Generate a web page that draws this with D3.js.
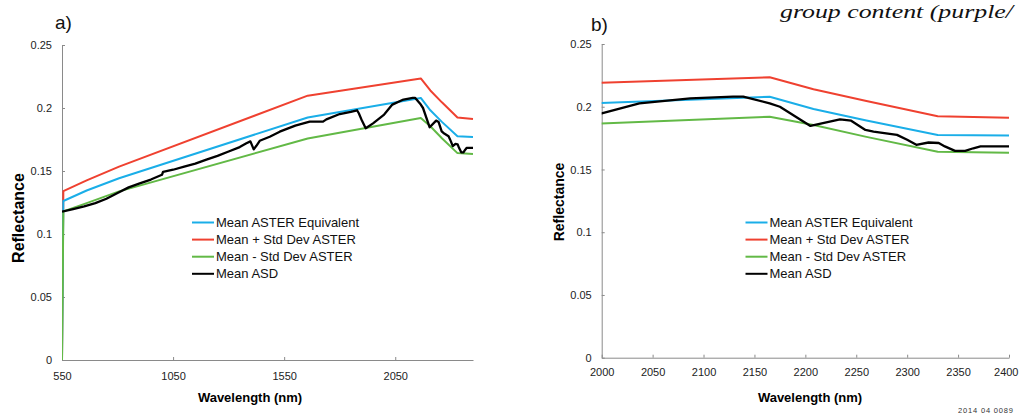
<!DOCTYPE html>
<html>
<head>
<meta charset="utf-8">
<script src="https://cdn.jsdelivr.net/npm/d3@7"></script>
<style>
  body { margin: 0; background: #fff; }
  svg { display: block; font-family: "Liberation Sans", Arial, sans-serif; }
  .axis path, .axis line { stroke: #8a8a8a; }
  .axis text { fill: #222; font-size: 11px; }
</style>
</head>
<body>
<svg id="chart" width="1019" height="414"></svg>
<script>
// ASTER band centres (nm), with a zero at 550 where the series begin
const asterWl = [550, 556, 661, 807, 1656, 2165, 2208, 2260, 2330, 2400]
const asterMean = [0, 0.1262, 0.1345, 0.1442, 0.1925, 0.208, 0.1982, 0.189, 0.1775, 0.177]
const asterPlus = [0, 0.134, 0.1425, 0.1535, 0.2098, 0.2235, 0.2139, 0.2045, 0.1924, 0.1913]
const asterMinus = [0, 0.118, 0.1245, 0.1338, 0.1758, 0.192, 0.1855, 0.176, 0.1642, 0.1634]

// Mean ASD spectrum
const asdWl = [550, 600, 650, 700, 750, 800, 850, 900, 950, 1000, 1005, 1050, 1100, 1150, 1200, 1250,
  1300, 1350, 1380, 1398, 1413, 1425, 1440, 1485, 1530, 1600, 1665, 1725, 1740, 1800, 1850, 1878,
  1886, 1900, 1917, 1950, 2000, 2037, 2087, 2129, 2139, 2165, 2175, 2205, 2234, 2245, 2259, 2267,
  2290, 2300, 2309, 2321, 2331, 2337, 2347, 2357, 2365, 2372, 2400]
const asdMean = [0.1177, 0.1198, 0.122, 0.1245, 0.128, 0.1325, 0.137, 0.1402, 0.1432, 0.147, 0.1494,
  0.151, 0.1535, 0.1558, 0.159, 0.162, 0.1655, 0.169, 0.172, 0.1735, 0.1672, 0.170, 0.174, 0.1772,
  0.1812, 0.186, 0.1892, 0.1892, 0.191, 0.1952, 0.197, 0.1982, 0.1958, 0.190, 0.1839, 0.1878, 0.1948,
  0.2027, 0.2067, 0.2081, 0.2081, 0.2027, 0.200, 0.1847, 0.19, 0.1889, 0.1815, 0.1802, 0.1776, 0.1737,
  0.1697, 0.1715, 0.1711, 0.1684, 0.1648, 0.1648, 0.1669, 0.1684, 0.1684]

const seriesNames = ['Mean ASTER Equivalent', 'Mean + Std Dev ASTER', 'Mean - Std Dev ASTER', 'Mean ASD']
const seriesColors = ['#1aaee8', '#ef4130', '#62b946', '#000000']

const yTicks = [0, 0.05, 0.1, 0.15, 0.2, 0.25]
const xTicksA = [550, 1050, 1550, 2050]
const xTicksB = [2000, 2050, 2100, 2150, 2200, 2250, 2300, 2350, 2400]

const svg = d3.select('#chart')

const series = [
  { name: seriesNames[0], color: seriesColors[0], pts: asterWl.map((w, i) => [w, asterMean[i]]) },
  { name: seriesNames[1], color: seriesColors[1], pts: asterWl.map((w, i) => [w, asterPlus[i]]) },
  { name: seriesNames[2], color: seriesColors[2], pts: asterWl.map((w, i) => [w, asterMinus[i]]) },
  { name: seriesNames[3], color: seriesColors[3], pts: asdWl.map((w, i) => [w, asdMean[i]]) }
]
// drawing order: red, blue, green, black
const drawOrder = [1, 0, 2, 3]

const panel = (opt) => {
  const x = d3.scaleLinear().domain(opt.xDomain).range(opt.xRange)
  const y = d3.scaleLinear().domain([0, 0.25]).range(opt.yRange)
  const g = svg.append('g')

  g.append('clipPath').attr('id', opt.id + '-clip')
    .append('rect')
    .attr('x', x.range()[0]).attr('y', y.range()[1] - 5)
    .attr('width', x.range()[1] - x.range()[0] + 2)
    .attr('height', y.range()[0] - y.range()[1] + 5)

  // axes
  const xAxis = g.append('g').attr('class', 'axis')
    .attr('transform', `translate(0,${y(0)})`)
    .call(d3.axisBottom(x).tickValues(opt.xTicks).tickFormat(d3.format('d'))
      .tickSizeInner(-3).tickSizeOuter(0).tickPadding(opt.xPad))
  // last label sits flush with the page edge, like the original
  if (opt.lastFlush) {
    xAxis.selectAll('.tick:last-of-type text').attr('text-anchor', 'end').attr('dx', opt.lastFlush)
  }
  g.append('g').attr('class', 'axis')
    .attr('transform', `translate(${x.range()[0]},0)`)
    .call(d3.axisLeft(y).tickValues(yTicks).tickFormat(d => String(+d.toFixed(2)))
      .tickSizeInner(-3).tickSizeOuter(0).tickPadding(10))

  // lines
  const line = d3.line().x(d => x(d[0])).y(d => y(d[1]))
  g.append('g').attr('clip-path', `url(#${opt.id}-clip)`)
    .selectAll('path')
    .data(drawOrder.map(i => series[i]))
    .join('path')
    .attr('d', d => line(d.pts))
    .attr('fill', 'none')
    .attr('stroke', d => d.color)
    .attr('stroke-width', d => d.color === '#000000' ? 2.3 : 2)
    .attr('stroke-linejoin', 'round')

  // legend
  const leg = g.append('g').attr('transform', `translate(${opt.legX},${opt.legY})`)
  series.forEach((s, i) => {
    const row = leg.append('g').attr('transform', `translate(0,${i * 17.1})`)
    row.append('line').attr('x1', 0).attr('x2', 22).attr('stroke', s.color).attr('stroke-width', 2)
    row.append('text').attr('x', 24).attr('dy', '0.35em')
      .attr('font-size', 13).attr('fill', '#111').text(s.name)
  })

  // titles
  g.append('text')
    .attr('x', opt.xTitleX).attr('y', 402)
    .attr('text-anchor', 'middle').attr('font-size', 13).attr('font-weight', 'bold')
    .text('Wavelength (nm)')
  g.append('text')
    .attr('transform', `translate(${opt.yTitleX},${opt.yTitleY}) rotate(-90)`)
    .attr('text-anchor', 'middle').attr('font-size', opt.yTitleSize).attr('font-weight', 'bold')
    .text('Reflectance')
  g.append('text')
    .attr('x', opt.tagX).attr('y', opt.tagY)
    .attr('font-size', 19).attr('fill', '#111')
    .text(opt.tag)
}

panel({
  id: 'a', xDomain: [550, 2400], xRange: [62, 473], yRange: [360, 45],
  xTicks: xTicksA, xPad: 12, legX: 192, legY: 222.5,
  xTitleX: 250, yTitleX: 24, yTitleY: 218, yTitleSize: 16,
  tag: 'a)', tagX: 55, tagY: 29
})

panel({
  id: 'b', xDomain: [2000, 2400], xRange: [601.7, 1009], yRange: [357.7, 44],
  xTicks: xTicksB, xPad: 10.5, legX: 745.5, legY: 222.5,
  xTitleX: 810, yTitleX: 564, yTitleY: 202, yTitleSize: 14,
  tag: 'b)', tagX: 591, tagY: 31, lastFlush: 9
})

// caption fragment from the page above, top right
svg.append('text')
  .attr('x', 780).attr('y', 17.5)
  .attr('font-family', '"Liberation Serif", "Times New Roman", serif')
  .attr('font-style', 'italic').attr('font-size', 19).attr('fill', '#111')
  .attr('textLength', 233).attr('lengthAdjust', 'spacingAndGlyphs')
  .text('group content (purple/')

svg.append('text')
  .attr('x', 958).attr('y', 413)
  .attr('font-size', 7.5).attr('fill', '#333')
  .attr('textLength', 55)
  .text('2014  04  0089')
</script>
</body>
</html>
